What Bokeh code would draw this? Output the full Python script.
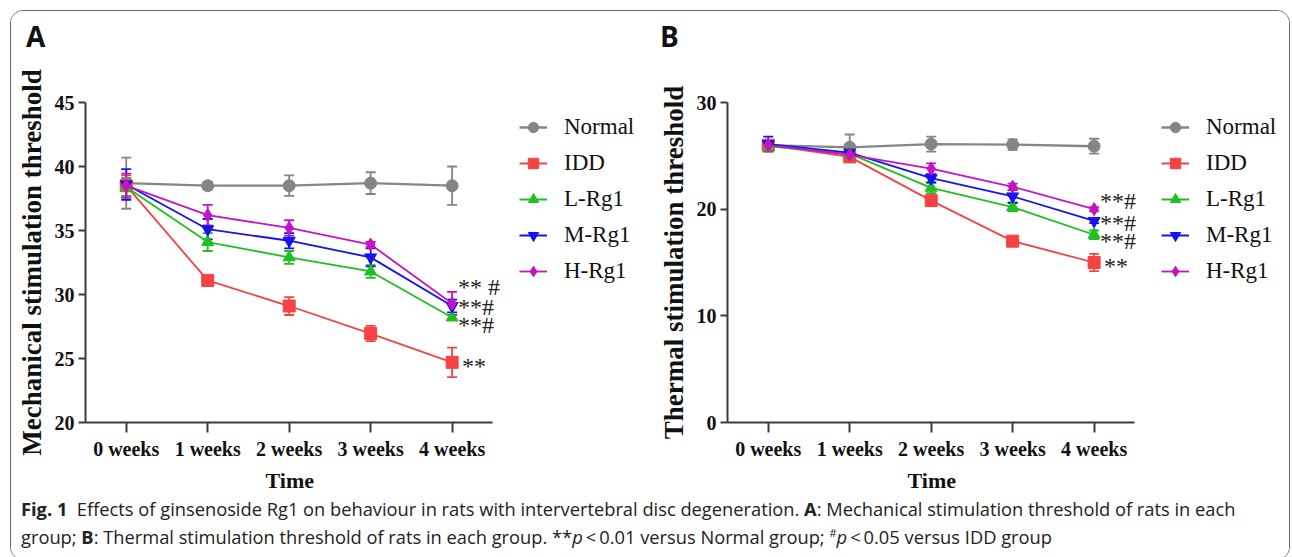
from bokeh.plotting import figure
from bokeh.models import (Range1d, Whisker, TeeHead, ColumnDataSource,
                          Legend, LegendItem, Label, Div, FixedTicker, Title)
from bokeh.layouts import column, row
from bokeh.embed import file_html
from bokeh.resources import INLINE

# ---------------- data ----------------
weeks = ["0 weeks", "1 weeks", "2 weeks", "3 weeks", "4 weeks"]
groups = ["Normal", "IDD", "L-Rg1", "M-Rg1", "H-Rg1"]

# Panel A: mechanical stimulation threshold (mean, error)
mech_normal = [38.7, 38.5, 38.5, 38.7, 38.5]
mech_normal_err = [2.0, 0.3, 0.8, 0.85, 1.5]
mech_idd = [38.5, 31.1, 29.1, 26.95, 24.7]
mech_idd_err = [0.8, 0.2, 0.7, 0.6, 1.15]
mech_l = [38.4, 34.1, 32.9, 31.8, 28.2]
mech_l_err = [0.7, 0.7, 0.5, 0.5, 0.2]
mech_m = [38.6, 35.1, 34.2, 32.9, 29.1]
mech_m_err = [1.2, 0.8, 0.6, 0.7, 0.5]
mech_h = [38.5, 36.2, 35.2, 33.9, 29.3]
mech_h_err = [0.95, 0.8, 0.6, 0.2, 0.9]

# Panel B: thermal stimulation threshold (mean, error)
therm_normal = [26.0, 25.8, 26.1, 26.05, 25.9]
therm_normal_err = [0.5, 1.2, 0.7, 0.5, 0.7]
therm_idd = [26.0, 24.9, 20.8, 17.0, 15.0]
therm_idd_err = [0.4, 0.3, 0.3, 0.2, 0.8]
therm_l = [25.9, 25.2, 22.0, 20.2, 17.6]
therm_l_err = [0.4, 0.3, 0.5, 0.4, 0.4]
therm_m = [26.1, 25.3, 22.9, 21.2, 18.9]
therm_m_err = [0.7, 0.4, 0.4, 0.6, 0.2]
therm_h = [26.0, 25.1, 23.8, 22.1, 20.0]
therm_h_err = [0.3, 0.3, 0.5, 0.3, 0.2]

mech_ticks = [20, 25, 30, 35, 40, 45]
therm_ticks = [0, 10, 20, 30]

# significance marks (text, y level) at 4 weeks
mech_marks = [("** #", 30.6), ("**#", 29.05), ("**#", 27.6), ("**", 24.45)]
therm_marks = [("**#", 20.8), ("**#", 18.7), ("**#", 17.0), ("**", 14.7)]

# ---------------- style ----------------
colors = ["#858585", "#f54242", "#1fc01f", "#1414f0", "#c414c4"]
markers = ["circle", "square", "triangle", "inverted_triangle", "diamond"]
msizes = [12, 12, 12, 12, 13]
SERIF = "Liberation Serif"
AXC = "#3c3c3c"
X_EXTRA = 6.3   # frame extends right of the axis to hold marks and legend
HEAD_H = 45


def letter_div(letter, width):
    return Div(text=letter, width=width, height=HEAD_H, margin=0,
               styles={"font-family": "'Open Sans'", "font-weight": "bold",
                       "font-size": "28px", "line-height": "50px", "color": "#111111",
                       "text-indent": "15px", "background": "white"})


def make_panel(ylabel, lo, hi, ticks, series, errs, marks, width, bl, br):
    xs = list(range(len(weeks)))
    p = figure(width=width, height=439, x_range=Range1d(-0.5, X_EXTRA),
               y_range=Range1d(lo, hi), output_backend="svg",
               toolbar_location=None, min_border_left=bl, min_border_right=br,
               min_border_top=46, min_border_bottom=73)
    p.xgrid.visible = False
    p.ygrid.visible = False
    p.outline_line_color = None
    p.background_fill_color = "white"
    p.border_fill_color = "white"

    for ax in (p.xaxis[0], p.yaxis[0]):
        ax.axis_line_color = AXC
        ax.axis_line_width = 2
        ax.major_tick_line_color = AXC
        ax.major_tick_line_width = 2
        ax.major_tick_in = 0
        ax.minor_tick_line_color = None
        ax.major_label_text_font = SERIF
        ax.major_label_text_font_style = "bold"
        ax.major_label_text_font_size = "20px"
        ax.major_label_text_color = "#111111"
        ax.axis_label_text_font = SERIF
        ax.axis_label_text_font_style = "bold"
        ax.axis_label_text_color = "#111111"
    p.yaxis.ticker = FixedTicker(ticks=ticks)
    p.yaxis.major_tick_out = 7
    p.yaxis.major_label_standoff = 4
    p.yaxis.axis_label = ylabel
    p.yaxis.axis_label_text_font_size = "27px"
    p.yaxis.axis_label_standoff = 5
    p.xaxis.ticker = FixedTicker(ticks=xs)
    p.xaxis.major_label_overrides = {i: w for i, w in zip(xs, weeks)}
    p.xaxis.bounds = (xs[0] - 0.5, xs[-1] + 0.5)
    p.xaxis.major_tick_out = 10
    p.xaxis.major_label_standoff = 5

    # axis title centred under the drawn axis (not the wider frame)
    p.add_layout(Title(text="Time", align="left", offset=180, standoff=6,
                       text_font=SERIF, text_font_style="bold", text_font_size="22px",
                       text_color="#111111"), "below")

    items = []
    for g, c, mk, ms, ys, es in zip(groups, colors, markers, msizes, series, errs):
        src = ColumnDataSource(dict(x=xs, y=ys,
                                    up=[a + b for a, b in zip(ys, es)],
                                    dn=[a - b for a, b in zip(ys, es)]))
        w = Whisker(base="x", upper="up", lower="dn", source=src,
                    line_color=c, line_width=1.8,
                    upper_head=TeeHead(size=10, line_color=c, line_width=1.8),
                    lower_head=TeeHead(size=10, line_color=c, line_width=1.8))
        p.add_layout(w)
        lr = p.line("x", "y", source=src, line_color=c,
                    line_width=2.3 if g == "Normal" else 1.8)
        sr = p.scatter("x", "y", source=src, marker=mk, size=ms,
                       fill_color=c, line_color=c)
        items.append(LegendItem(label=g, renderers=[lr, sr]))

    for txt, yv in marks:
        p.add_layout(Label(x=xs[-1], y=yv, x_offset=6 if "#" in txt else 10,
                           text=txt, text_font=SERIF, text_font_size="24px",
                           text_baseline="middle", text_color="#222222"))

    leg = Legend(items=items, location=(434, 138), orientation="vertical",
                 label_text_font=SERIF, label_text_font_size="23px",
                 label_text_color="#111111", glyph_width=28, glyph_height=26,
                 label_height=26, label_standoff=17, spacing=10, padding=0, margin=0,
                 border_line_color=None, background_fill_alpha=0)
    p.add_layout(leg, "center")
    return p


pA = make_panel("Mechanical stimulation threshold", 20, 45, mech_ticks,
                [mech_normal, mech_idd, mech_l, mech_m, mech_h],
                [mech_normal_err, mech_idd_err, mech_l_err, mech_m_err, mech_h_err],
                mech_marks, 634, 74, 6)
pB = make_panel("Thermal stimulation threshold", 0, 30, therm_ticks,
                [therm_normal, therm_idd, therm_l, therm_m, therm_h],
                [therm_normal_err, therm_idd_err, therm_l_err, therm_m_err, therm_h_err],
                therm_marks, 644, 82, 8)

caption = Div(
    text=("<div style='padding-left:10px'><b>Fig. 1</b>&nbsp;&nbsp;Effects of ginsenoside Rg1 "
          "on behaviour in rats with intervertebral disc degeneration. <b>A</b>: Mechanical "
          "stimulation threshold of rats in each<br>group; <b>B</b>: Thermal stimulation "
          "threshold of rats in each group. **<i>p</i>&thinsp;&lt;&thinsp;0.01 versus Normal "
          "group; <sup style='line-height:0;font-size:11px'>#</sup><i>p</i>&thinsp;"
          "&lt;&thinsp;0.05 versus IDD group</div>"),
    width=1278, height=64, margin=0,
    styles={"font-family": "'Open Sans'", "font-size": "18.3px", "line-height": "28px",
            "color": "#222222", "background": "white", "white-space": "nowrap"})

root = column(row(column(letter_div("A", 634), pA), column(letter_div("B", 644), pB)),
              caption,
              styles={"border": "1.5px solid #666666", "border-radius": "13px",
                      "margin-left": "10px", "margin-top": "10px",
                      "background": "white", "overflow": "hidden"})

open("out.html", "w").write(file_html(root, INLINE))
